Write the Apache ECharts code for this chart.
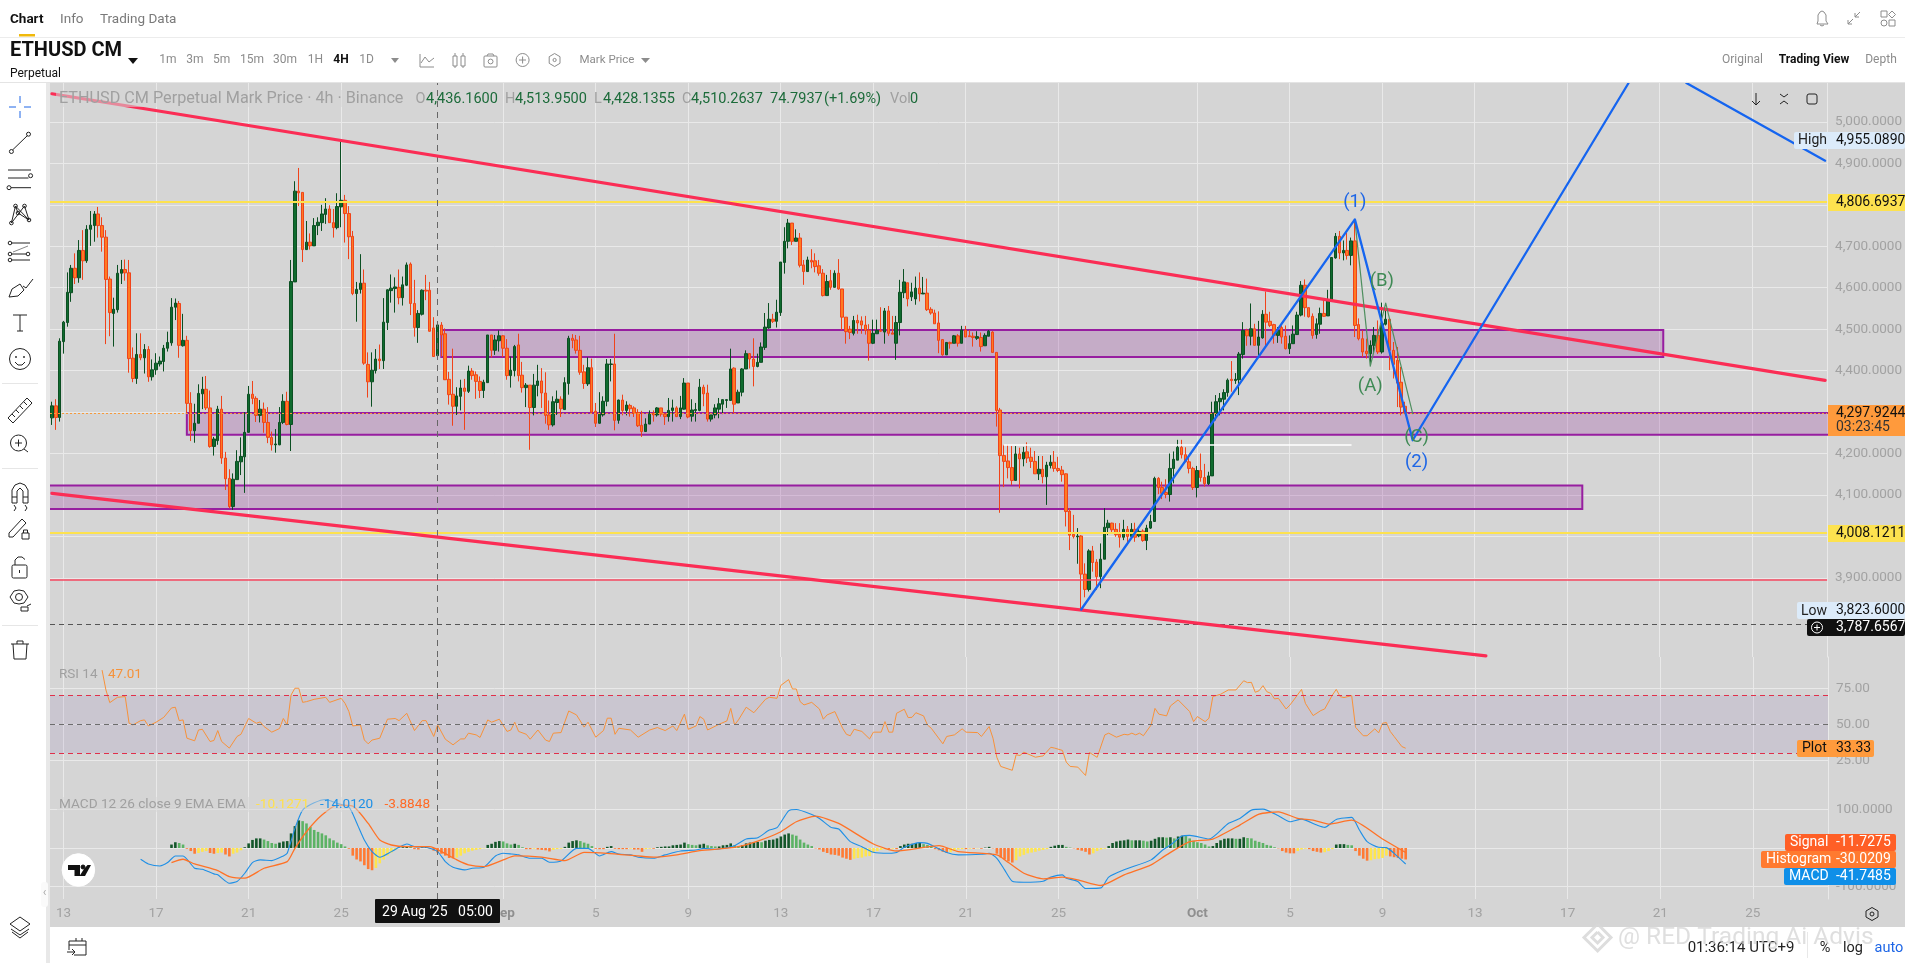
<!DOCTYPE html>
<html><head><meta charset="utf-8"><title>ETHUSD CM</title>
<style>html,body{margin:0;padding:0;background:#fff;overflow:hidden}#c{width:1905px;height:963px}</style>
<script src="https://cdn.jsdelivr.net/npm/echarts@6/dist/echarts.min.js"></script>
</head><body><div id="c"></div>
<script>
// [open, close, low, high], one row per 4h bar
const candles = [
[4286,4315,4269,4325],[4315,4287,4257,4331],[4287,4471,4277,4478],[4470,4517,4441,4520],[4516,4589,4506,4637],[4588,4647,4566,4655],[4647,4624,4609,4683],[4624,4690,4612,4715],[4690,4665,4619,4739],[4665,4741,4660,4751],
[4741,4751,4701,4785],[4750,4778,4711,4785],[4778,4750,4721,4795],[4750,4722,4687,4770],[4722,4620,4464,4739],[4621,4540,4483,4627],[4538,4548,4458,4576],[4547,4635,4540,4655],[4635,4644,4609,4667],[4644,4636,4617,4668],
[4636,4429,4395,4667],[4430,4381,4372,4456],[4381,4439,4368,4490],[4439,4431,4425,4490],[4431,4451,4393,4464],[4451,4385,4373,4459],[4385,4402,4376,4427],[4402,4418,4390,4442],[4416,4423,4410,4434],[4422,4454,4398,4462],
[4454,4468,4446,4494],[4467,4553,4460,4575],[4553,4563,4522,4574],[4562,4461,4431,4568],[4460,4473,4458,4537],[4473,4321,4297,4484],[4321,4255,4230,4348],[4255,4273,4226,4320],[4273,4345,4273,4367],[4344,4355,4307,4385],
[4355,4310,4305,4387],[4310,4217,4214,4352],[4217,4235,4195,4240],[4231,4307,4221,4315],[4307,4189,4175,4339],[4189,4139,4112,4204],[4140,4072,4068,4162],[4072,4138,4064,4152],[4137,4181,4137,4208],[4180,4193,4148,4239],
[4192,4251,4105,4300],[4251,4343,4250,4363],[4343,4333,4319,4375],[4333,4292,4276,4338],[4292,4307,4275,4329],[4307,4275,4250,4323],[4275,4239,4225,4312],[4239,4221,4207,4253],[4221,4223,4202,4259],[4221,4275,4220,4312],
[4275,4326,4271,4343],[4326,4270,4268,4349],[4270,4615,4206,4667],[4614,4833,4614,4857],[4833,4829,4797,4889],[4830,4692,4662,4830],[4692,4710,4691,4761],[4710,4701,4692,4731],[4701,4750,4701,4768],[4750,4758,4727,4770],
[4757,4778,4737,4800],[4777,4790,4754,4816],[4790,4757,4757,4799],[4757,4745,4721,4790],[4745,4796,4741,4828],[4795,4811,4746,4955],[4811,4779,4709,4824],[4779,4723,4669,4797],[4724,4586,4582,4737],[4586,4596,4518,4614],
[4596,4611,4586,4681],[4611,4418,4414,4644],[4415,4373,4335,4444],[4373,4401,4313,4444],[4400,4428,4393,4452],[4428,4424,4404,4463],[4424,4517,4404,4575],[4516,4595,4498,4596],[4593,4599,4564,4632],[4598,4602,4540,4625],
[4601,4576,4560,4644],[4576,4607,4557,4627],[4606,4655,4604,4661],[4657,4562,4534,4661],[4562,4504,4482,4619],[4504,4538,4467,4546],[4536,4594,4533,4596],[4594,4592,4570,4631],[4594,4495,4494,4614],[4503,4434,4433,4529],
[4436.16,4510.26,4428.13,4513.95],[4510,4486,4434,4517],[4489,4378,4378,4502],[4379,4342,4318,4397],[4343,4314,4267,4453],[4314,4339,4293,4360],[4338,4358,4304,4378],[4358,4350,4257,4380],[4350,4399,4346,4412],[4399,4388,4378,4406],
[4390,4374,4332,4398],[4374,4352,4334,4386],[4352,4372,4334,4378],[4371,4486,4371,4486],[4486,4449,4432,4486],[4449,4474,4438,4486],[4472,4484,4446,4497],[4484,4454,4433,4486],[4454,4388,4378,4476],[4388,4401,4359,4434],
[4400,4458,4386,4462],[4462,4388,4374,4489],[4389,4359,4347,4421],[4359,4365,4312,4370],[4365,4311,4209,4365],[4311,4365,4292,4392],[4364,4375,4338,4414],[4375,4346,4310,4406],[4346,4292,4272,4396],[4293,4269,4257,4328],
[4269,4325,4265,4338],[4323,4331,4293,4352],[4331,4308,4288,4338],[4306,4371,4306,4384],[4369,4478,4342,4484],[4478,4473,4454,4488],[4474,4449,4441,4486],[4449,4396,4390,4484],[4397,4369,4356,4414],[4368,4407,4363,4432],
[4407,4300,4297,4429],[4302,4273,4264,4322],[4273,4295,4272,4348],[4293,4326,4289,4338],[4326,4416,4314,4428],[4415,4416,4374,4428],[4416,4280,4256,4489],[4280,4329,4272,4330],[4329,4304,4292,4342],[4304,4317,4292,4326],
[4316,4308,4289,4320],[4310,4297,4288,4314],[4299,4267,4264,4307],[4268,4253,4240,4303],[4253,4271,4253,4285],[4271,4295,4271,4304],[4297,4293,4277,4304],[4293,4310,4289,4312],[4310,4295,4289,4310],[4295,4289,4269,4297],
[4289,4304,4277,4334],[4304,4310,4277,4330],[4310,4289,4288,4314],[4289,4310,4283,4339],[4307,4370,4306,4382],[4370,4288,4285,4370],[4290,4305,4277,4331],[4304,4306,4277,4322],[4304,4360,4302,4380],[4360,4344,4314,4366],
[4346,4283,4277,4366],[4283,4293,4277,4293],[4293,4310,4285,4319],[4307,4320,4285,4334],[4319,4330,4295,4331],[4328,4330,4310,4331],[4328,4404,4328,4453],[4406,4319,4297,4408],[4322,4348,4322,4354],[4348,4404,4338,4406],
[4404,4441,4404,4449],[4441,4428,4405,4442],[4428,4410,4362,4478],[4410,4420,4408,4441],[4420,4457,4420,4468],[4456,4505,4450,4539],[4503,4524,4501,4563],[4524,4519,4515,4537],[4519,4541,4504,4571],[4540,4662,4532,4662],
[4661,4712,4634,4746],[4712,4756,4695,4766],[4756,4712,4703,4756],[4712,4720,4712,4741],[4720,4654,4649,4732],[4655,4639,4607,4667],[4639,4667,4639,4675],[4666,4662,4647,4693],[4665,4651,4637,4683],[4653,4635,4629,4667],
[4635,4581,4579,4645],[4581,4615,4581,4631],[4617,4601,4595,4643],[4601,4635,4601,4642],[4635,4597,4595,4669],[4597,4529,4498,4597],[4529,4494,4465,4529],[4500,4492,4476,4508],[4490,4521,4485,4532],[4521,4515,4489,4535],
[4520,4510,4489,4531],[4510,4497,4487,4532],[4497,4466,4424,4512],[4466,4490,4464,4523],[4489,4497,4489,4523],[4497,4495,4493,4553],[4493,4544,4465,4551],[4544,4490,4484,4556],[4491,4488,4488,4532],[4466,4516,4426,4532],
[4516,4589,4485,4619],[4588,4614,4575,4645],[4612,4573,4555,4612],[4578,4590,4568,4612],[4573,4599,4559,4627],[4599,4585,4567,4637],[4585,4587,4585,4626],[4587,4547,4544,4622],[4548,4539,4535,4553],[4539,4513,4513,4547],
[4515,4473,4442,4543],[4475,4438,4436,4475],[4438,4468,4438,4468],[4468,4465,4453,4470],[4466,4484,4466,4486],[4484,4466,4458,4488],[4466,4498,4466,4508],[4498,4481,4481,4508],[4484,4482,4482,4498],[4483,4480,4458,4492],
[4478,4482,4474,4495],[4480,4458,4446,4492],[4460,4485,4460,4490],[4483,4495,4483,4498],[4493,4444,4444,4495],[4444,4304,4265,4444],[4305,4195,4057,4310],[4195,4181,4119,4221],[4182,4166,4140,4221],[4166,4135,4124,4218],
[4135,4199,4135,4218],[4199,4187,4116,4214],[4187,4203,4169,4216],[4204,4189,4177,4227],[4191,4181,4165,4214],[4181,4151,4151,4206],[4151,4162,4136,4194],[4162,4144,4128,4194],[4144,4172,4076,4180],[4171,4179,4164,4196],
[4179,4164,4156,4206],[4164,4159,4155,4192],[4160,4149,4132,4170],[4151,4060,4024,4152],[4061,4003,3967,4068],[4005,4000,3995,4052],[3999,4001,3934,4020],[4001,3909,3823.6,4003],[3909,3872,3853,3935],[3872,3965,3867,3969],
[3965,3937,3915,3977],[3938,3903,3871,3945],[3903,3945,3875,3983],[3945,4022,3945,4068],[4021,4032,4003,4040],[4032,4016,4006,4033],[4017,4004,3999,4032],[4005,3998,3973,4032],[3998,4017,3991,4040],[4017,4000,3979,4025],
[4000,4017,3998,4032],[4017,3998,3987,4033],[4001,4012,3998,4020],[4013,3990,3987,4017],[3990,4020,3967,4028],[4020,4036,4018,4052],[4036,4140,4036,4144],[4140,4118,4102,4143],[4118,4104,4090,4132],[4106,4101,4092,4138],
[4101,4164,4084,4200],[4164,4186,4128,4205],[4184,4215,4184,4233],[4215,4197,4188,4233],[4197,4180,4180,4215],[4180,4164,4152,4196],[4164,4118,4112,4168],[4118,4159,4094,4170],[4159,4142,4132,4200],[4142,4127,4120,4175],
[4127,4146,4124,4156],[4146,4297,4146,4325],[4297,4325,4280,4341],[4325,4333,4292,4346],[4331,4347,4304,4355],[4347,4377,4337,4381],[4379,4376,4349,4423],[4376,4379,4368,4394],[4378,4440,4341,4445],[4439,4497,4429,4517],
[4497,4484,4460,4501],[4483,4501,4461,4562],[4501,4461,4461,4513],[4461,4481,4437,4520],[4479,4536,4477,4546],[4536,4517,4457,4591],[4519,4509,4505,4542],[4511,4485,4465,4513],[4485,4497,4467,4505],[4504,4481,4465,4509],
[4483,4453,4451,4509],[4453,4465,4440,4485],[4465,4488,4465,4509],[4487,4534,4487,4542],[4534,4606,4531,4616],[4606,4552,4530,4620],[4552,4530,4528,4552],[4531,4485,4477,4538],[4487,4513,4477,4526],[4512,4538,4489,4552],
[4538,4531,4530,4574],[4532,4571,4532,4595],[4570,4673,4570,4673],[4672,4724,4670,4732],[4724,4684,4669,4737],[4684,4690,4666,4714],[4690,4678,4668,4732],[4678,4713,4654,4721],[4713,4509,4481,4763],[4511,4477,4473,4526],
[4477,4445,4433,4497],[4447,4441,4429,4477],[4441,4461,4411,4473],[4461,4485,4441,4505],[4485,4445,4440,4521],[4445,4513,4441,4564],[4512,4524,4509,4550],[4524,4449,4401,4526],[4449,4415,4381,4469],[4425,4370,4312,4457],
[4372,4312,4292,4409],[4314,4297.92,4295,4325]
];
// RSI [bar, value]
const rsi = [[13,87.6],[14,73.8],[15,65],[17,68.7],[19,69.2],[20,50.7],[21,49.5],[23,52.5],[24,53],[25,48.8],[27,51.4],[29,54.8],[31,61.3],[32,61.8],[33,52.5],[34,53],[35,40.3],[37,38.5],[38,46],[39,46.5],[41,38],[42,38.7],[43,45.6],[44,38],[46,33.4],[48,41.5],[49,43],[51,54],[53,50.7],[54,51.6],[55,48.4],[57,44.5],[59,47],[60,54],[61,49.5],[62,70.3],[63,75],[64,75],[65,65.2],[66,65.7],[68,67.3],[71,68.7],[72,65.2],[75,68],[76,64.5],[77,58.8],[78,48.8],[80,49.5],[81,39.1],[82,36.4],[83,39],[85,40.3],[87,53.5],[89,54],[90,52.5],[92,57.6],[94,45.6],[96,52.5],[97,52.5],[99,41.5],[100,49.5],[102,39.6],[104,35.7],[106,39.8],[107,39.8],[108,43.8],[110,42.6],[111,40.8],[113,53],[114,51.4],[116,53.5],[118,45],[119,46],[120,51.4],[121,45],[123,43],[124,39.6],[126,46],[128,39],[129,38],[130,43.8],[132,44.2],[134,59.2],[136,56.5],[138,48],[139,51.4],[141,41],[143,45.6],[144,54.2],[145,54.2],[146,43],[147,47.2],[150,46],[152,41],[155,46],[157,47.7],[159,45.6],[161,48.8],[162,45.6],[164,57],[165,46.5],[167,48.8],[168,55.3],[169,53.5],[170,46],[173,50],[175,52.3],[176,61],[177,49.5],[178,53],[180,61.8],[182,58],[185,67.3],[186,68.7],[188,68],[189,77],[191,81],[192,74.5],[193,74.5],[194,65.7],[195,63.4],[197,65.2],[199,60.6],[200,53.5],[201,56.5],[203,58.8],[205,47.2],[206,43],[207,42],[208,46.5],[210,45],[212,39.8],[213,44.5],[215,44.5],[216,51.8],[217,44.5],[218,44.5],[219,57.6],[221,60.4],[222,54.6],[223,54.8],[224,58],[226,55.8],[227,49.5],[228,47.2],[231,36.4],[232,41.5],[234,42.6],[236,46.8],[237,44.5],[240,44.2],[241,41.5],[243,48.4],[244,40.3],[245,27],[246,20.7],[249,18],[250,28.8],[251,28.3],[252,30.6],[255,27.1],[257,28],[259,34],[260,33.4],[262,31.8],[263,23.7],[264,20.7],[266,20.2],[268,14.4],[269,30.4],[271,27],[273,42.6],[274,43.8],[276,41],[278,43],[279,42.6],[280,43.8],[281,42.6],[282,43.8],[283,42],[285,49.5],[286,61],[287,57],[289,55.8],[290,62.7],[292,66.9],[295,58.8],[296,51.8],[297,55.3],[299,51.8],[300,54.2],[301,69.2],[303,70.8],[305,73.8],[307,73.8],[309,80.2],[310,78.9],[311,79.1],[312,72.2],[313,73.3],[314,76.8],[315,72.6],[316,71.5],[317,67.6],[318,68],[320,60.6],[321,63.4],[322,66.9],[324,74.2],[325,64.5],[327,56],[329,59.5],[330,60.6],[332,70.3],[333,74.2],[334,69.2],[335,68.5],[337,69.9],[338,47.9],[340,42],[341,42],[343,46.8],[344,44],[345,50.7],[346,51.2],[347,45],[348,41.5],[350,34.5],[351,33.33]];
// MACD line [bar, value]
const macdLine = [[23,-29.4],[25,-41.6],[28,-46.8],[30,-38],[32,-20.8],[34,-20.8],[37,-52.8],[39,-55.4],[42,-67.5],[43,-70],[46,-91.8],[48,-87.4],[50,-65.8],[52,-38],[54,-31],[57,-33],[60,-20.8],[61,-13.9],[63,51],[65,98.7],[68,117.7],[71,126.4],[74,116],[77,107],[79,65.8],[81,20.8],[83,-9.5],[85,-24.2],[88,-9.5],[90,1.7],[92,10.4],[94,3.5],[97,1.7],[100,-9.5],[102,-35.5],[104,-50.2],[107,-57.1],[109,-52.8],[112,-50.2],[115,-20.8],[117,-13.9],[119,-15.6],[121,-18],[124,-26.8],[127,-26.8],[129,-37.2],[132,-33.8],[136,-0.9],[139,-0.9],[142,-20.8],[145,-9.5],[147,-15.6],[150,-18],[152,-24],[156,-26.8],[159,-18],[163,-7.8],[167,-5.2],[169,-0.9],[172,-3.5],[177,6],[180,23.4],[183,26.8],[186,46.8],[188,52.8],[191,97],[193,100.4],[197,87.4],[199,77],[202,53.7],[204,49.4],[207,16.5],[210,3.5],[213,-11.3],[217,-13.9],[219,-12],[221,1.7],[225,13.9],[227,12],[232,-12],[235,-18],[241,-16.5],[243,-13.9],[245,-26.8],[247,-57],[249,-86.6],[252,-89.2],[257,-86.6],[259,-76],[262,-70],[263,-78.8],[266,-87.4],[268,-105.6],[272,-104],[274,-76],[278,-57],[285,-31],[288,-5.2],[290,7.8],[293,31],[295,33],[300,23.4],[305,64],[308,77],[311,98.7],[314,101.3],[318,84],[321,68.4],[324,75.3],[328,59.7],[330,53.7],[333,74.5],[337,79.7],[339,46.8],[341,16.5],[344,1.7],[346,0.9],[348,-13.9],[351,-41.75]];
// Signal line [bar, value]
const signalLine = [[31,-38],[34,-29.4],[37,-41.6],[43,-59],[46,-74.5],[50,-78.8],[55,-52.8],[61,-35.5],[63,-0.9],[66,42.4],[70,85.7],[74,111.7],[78,109],[82,64],[85,20.8],[88,7.8],[92,3.5],[98,3.5],[101,-9.5],[105,-31],[108,-44],[112,-48.5],[117,-31],[120,-20.8],[127,-24],[133,-33],[138,-11.3],[144,-13.9],[152,-20.8],[156,-24],[162,-18],[168,-7],[177,1.7],[183,18],[189,42.4],[193,68.4],[198,83],[204,64],[213,10.4],[219,-7.8],[230,6],[235,-9.5],[245,-18],[248,-38],[252,-65.8],[257,-80.5],[262,-76],[266,-83],[272,-97.8],[278,-70],[285,-44],[289,-18],[295,16.5],[301,23.4],[308,59.7],[313,88.3],[318,94.4],[323,77],[327,72.7],[331,62.3],[337,72.7],[345,23.4],[351,-11.73]];
// Histogram, one value per bar from histStart
const histStart = 31;
const histogram = [9,15,13,9,-2,-8,-15,-13,-10,-8,-13,-15,-13,-12,-17,-22,-15,-12,-6,2,12,21,25,25,22,18,13,11,14,17,18,38,57,72,70,64,55,47,42,38,33,25,20,14,10,4,-2,-20,-30,-35,-45,-55,-58,-52,-40,-30,-20,-12,-5,1,2,4,3,-3,-4,2,3,-2,-7,-12,-15,-20,-26,-27,-25,-20,-14,-10,-7,-5,-3,-1,8,11,16,18,17,12,9,11,8,2,-3,-3,-2,-4,-5,-6,-9,-5,-3,-2,3,14,18,20,18,14,11,5,-2,-3,-3,3,5,-2,-3,-3,-3,-2,-4,-4,-10,-3,-2,-2,2,3,4,4,7,8,9,14,10,8,7,9,11,7,5,4,4,7,8,12,7,5,7,12,14,15,16,15,19,21,22,25,30,35,38,35,32,22,14,9,5,-1,-4,-10,-13,-17,-18,-20,-25,-28,-31,-28,-26,-25,-22,-21,-12,-8,-5,-3,-3,-2,-3,5,9,11,11,13,14,10,8,3,-3,-6,-10,-13,-11,-8,-4,-3,-3,-2,-2,-1,-2,1,3,-1,-15,-25,-30,-35,-38,-32,-22,-18,-14,-12,-10,-7,-5,-3,3,6,8,8,3,1,-1,-5,-7,-10,-17,-14,-8,-4,-2,5,13,17,19,20,22,20,20,20,19,17,19,24,28,28,27,28,25,30,32,31,25,19,15,13,9,4,5,13,20,24,25,25,24,24,28,26,25,19,16,13,8,6,2,-1,-8,-12,-14,-14,-8,-4,-2,-3,-8,-10,-12,-11,-8,-3,9,10,10,8,7,-8,-20,-28,-33,-32,-29,-28,-26,-20,-22,-24,-26,-28,-30.02];
// Drawings, in bar index and price
const upperTrend = [[0,5068],[460,4376.6]];
const lowerTrend = [[0,4104],[372,3711.7]];
const waveBlue = [[267,3823.6],[338,4765],[353,4232],[409,5094]];
const waveBlueExit = [[424,5094],[460,4906.6]];
const waveGreen = [[338,4763],[342,4411],[346,4563],[353,4296]];
const whiteLine = [[247,4220.7],[337,4220.7]];
// Zones: startBar, top, endBar, bottom
const zones = [[101,4498,418,4433],[35,4298,460,4245],[0,4122.6,397,4066]];
// Wave labels: bar, price, text, colour group
const waveLabels = [[338,4807,'(1)','b'],[353.5,4178,'(2)','b'],[342,4362,'(A)','g'],[345,4615,'(B)','g'],[353.5,4239,'(C)','g']];
const priceTicks = [3900,4000,4100,4200,4300,4400,4500,4600,4700,4800,4900,5000];
const rsiTicks = [25,50,75];
const macdTicks = [-100,0,100];
const xTickBars = [3,27,51,75,117,141,165,189,213,237,261,297,321,345,369,393,417,441];
const xTickLabels = ['13','17','21','25','Sep','5','9','13','17','21','25','Oct','5','9','13','17','21','25'];
const barCount = 461;
const categories = [];
for (let i = 0; i < barCount; i++) {
  categories.push(new Date(Date.UTC(2025, 7, 12, 12) + i * 4 * 3600 * 1000).toISOString().slice(0, 16));
}

const GREY = '#d5d5d5', GRID = '#e9e9e9', AX = '#a2a2a2', FONT = 'Roboto';
const tickMap = {}; xTickBars.forEach((b, k) => tickMap[b] = xTickLabels[k]);
const isTick = i => tickMap[i] !== undefined;

function xAxis(gi, show) {
  return {
    type: 'category', gridIndex: gi, data: categories, boundaryGap: true,
    axisLine: { show: show, lineStyle: { color: GRID } },
    axisTick: { show: false, alignWithLabel: true, interval: isTick },
    splitLine: { show: true, interval: isTick, alignWithLabel: true, lineStyle: { color: GRID, width: 1 } },
    axisLabel: show ? {
      show: true, interval: isTick, margin: 8, fontFamily: FONT, fontSize: 13.5, color: AX, hideOverlap: false,
      formatter: (v, i) => { const t = tickMap[i]; return (t === 'Sep' || t === 'Oct') ? '{b|' + t + '}' : t; },
      rich: { b: { fontFamily: FONT, fontSize: 13.5, fontWeight: 'bold', color: '#8f8f8f' } }
    } : { show: false }
  };
}
function yAxis(gi, min, max, ticks, fmt) {
  return {
    type: 'value', gridIndex: gi, position: 'right', min, max, scale: true,
    axisLine: { show: true, lineStyle: { color: GRID } },
    axisTick: { show: false, customValues: ticks },
    splitLine: { show: true, lineStyle: { color: GRID, width: 1 } },
    axisLabel: { show: true, customValues: ticks, margin: 8, align: 'left', fontFamily: FONT, fontSize: 13.5, color: AX, formatter: fmt, showMinLabel: true, showMaxLabel: true }
  };
}
const fmt4 = v => v.toLocaleString('en-US', { minimumFractionDigits: 4, maximumFractionDigits: 4 });
const fmt2 = v => v.toFixed(2);

function seg(name, data, color, width, z) {
  return { name, type: 'line', xAxisIndex: 0, yAxisIndex: 0, data, showSymbol: false, symbol: 'none', silent: true, clip: true, z: z || 5,
    lineStyle: { color, width, cap: 'round', join: 'round' }, itemStyle: { color } };
}
function crosshair() {
  return { xAxis: 100, lineStyle: { color: '#666', type: [6, 5], width: 1 } };
}
const hist = histogram.map((v, k) => {
  const prev = k ? histogram[k - 1] : 0;
  const col = v >= 0 ? (v >= prev ? '#14572a' : '#5cb365') : (v <= prev ? '#ff7a33' : '#ffe54d');
  return { value: [histStart + k, v], itemStyle: { color: col } };
});

const series = [
  { name: 'zones', type: 'custom', xAxisIndex: 0, yAxisIndex: 0, z: 1, clip: true, silent: true, encode: { x: 0, y: 1 }, data: zones,
    renderItem: (params, api) => {
      const a = api.coord([api.value(0), api.value(1)]), b = api.coord([api.value(2), api.value(3)]);
      const x0 = api.value(0) === 0 ? a[0] - 6 : a[0], x1 = api.value(2) === barCount - 1 ? b[0] + 6 : b[0];
      return { type: 'rect', shape: { x: x0, y: a[1], width: x1 - x0, height: b[1] - a[1] },
        style: { fill: 'rgba(150,50,160,0.25)', stroke: '#971ea0', lineWidth: 2 } };
    } },
  { name: 'ETHUSD', type: 'candlestick', xAxisIndex: 0, yAxisIndex: 0, data: candles, barWidth: 3, z: 2, silent: true,
    itemStyle: { color: '#0f6b2e', color0: '#ff7a22', borderColor: '#0b4f22', borderColor0: '#f0431a', borderWidth: 1 },
    markLine: { silent: true, symbol: 'none', animation: false, label: { show: false }, data: [
      { yAxis: 4806.69, lineStyle: { color: '#fde24f', width: 2, type: 'solid' } },
      { yAxis: 4008.12, lineStyle: { color: '#fde24f', width: 2, type: 'solid' } },
      { yAxis: 3895, lineStyle: { color: '#f5475f', width: 1.5, type: 'solid' } },
      { yAxis: 3787.66, lineStyle: { color: '#555', width: 1, type: [5, 4] } },
      { yAxis: 4297.92, lineStyle: { color: '#f59a3c', width: 1, type: [2, 2] } },
      crosshair()
    ] } },
  seg('upper', upperTrend, '#fb2d55', 3.2, 6),
  seg('lower', lowerTrend, '#fb2d55', 3.2, 6),
  seg('wave', waveBlue, '#1565f0', 2.3, 7),
  seg('wave2', waveBlueExit, '#1565f0', 2.3, 7),
  seg('waveAbc', waveGreen, '#4f8f5f', 1.2, 6),
  seg('white', whiteLine, '#ffffff', 1.5, 3),
  { name: 'labels', type: 'custom', xAxisIndex: 0, yAxisIndex: 0, z: 8, clip: false, silent: true, encode: { x: 0, y: 1 }, data: waveLabels,
    renderItem: (params, api) => {
      const row = waveLabels[params.dataIndex];
      const p = api.coord([row[0], row[1]]);
      return { type: 'text', x: p[0], y: p[1], style: { text: row[2], font: '400 18.5px ' + FONT, fill: row[3] === 'b' ? '#1e66e6' : '#3f8a55', align: 'center', verticalAlign: 'middle' } };
    } },
  { name: 'RSI', type: 'line', xAxisIndex: 1, yAxisIndex: 1, data: rsi, showSymbol: false, symbol: 'none', silent: true, z: 4,
    lineStyle: { color: '#f8923a', width: 1 }, itemStyle: { color: '#f8923a' },
    markArea: { silent: true, itemStyle: { color: 'rgba(110,70,170,0.10)' }, data: [[{ yAxis: 70 }, { yAxis: 30 }]] },
    markLine: { silent: true, symbol: 'none', animation: false, label: { show: false }, data: [
      { yAxis: 70, lineStyle: { color: '#e0304a', type: [5, 4], width: 1 } },
      { yAxis: 50, lineStyle: { color: '#6d6d6d', type: [5, 4], width: 1 } },
      { yAxis: 30, lineStyle: { color: '#e0304a', type: [5, 4], width: 1 } },
      crosshair()
    ] } },
  { name: 'Histogram', type: 'bar', xAxisIndex: 2, yAxisIndex: 2, data: hist, barWidth: 2.6, silent: true, z: 2,
    markLine: { silent: true, symbol: 'none', animation: false, label: { show: false }, data: [crosshair()] } },
  { name: 'MACD', type: 'line', xAxisIndex: 2, yAxisIndex: 2, data: macdLine, showSymbol: false, symbol: 'none', silent: true, z: 4, smooth: 0.2,
    lineStyle: { color: '#1e8fe6', width: 1.1 }, itemStyle: { color: '#1e8fe6' } },
  { name: 'Signal', type: 'line', xAxisIndex: 2, yAxisIndex: 2, data: signalLine, showSymbol: false, symbol: 'none', silent: true, z: 5, smooth: 0.2,
    lineStyle: { color: '#ff7226', width: 1.3 }, itemStyle: { color: '#ff7226' } }
];

// ---- chrome helpers ----
const T = (text, x, y, size, fill, weight, align) => ({ type: 'text', x, y, silent: true, style: { text, fill, font: (weight || 400) + ' ' + size + 'px ' + FONT, align: align || 'left', verticalAlign: 'middle' } });
const R = (x, y, w, h, fill, r) => ({ type: 'rect', silent: true, shape: { x, y, width: w, height: h, r: r || 0 }, style: { fill } });
const RO = (x, y, w, h, stroke, r) => ({ type: 'rect', silent: true, shape: { x, y, width: w, height: h, r: r || 0 }, style: { fill: 'none', stroke, lineWidth: 1 } });
const PL = (pts, stroke, lw) => ({ type: 'polyline', silent: true, shape: { points: pts }, style: { stroke: stroke || '#222', fill: 'none', lineWidth: lw || 1 } });
const PG = (pts, fill) => ({ type: 'polygon', silent: true, shape: { points: pts }, style: { fill } });
const C = (cx, cy, r, stroke, fill) => ({ type: 'circle', silent: true, shape: { cx, cy, r }, style: { stroke: stroke || '#222', fill: fill || 'none', lineWidth: 1 } });

const under = [
  R(0, 0, 1905, 963, '#ffffff'),
  R(50, 83, 1855, 844, GREY),
  R(46, 83, 4, 880, '#e8e8e8')
];

const ink = '#222', mute = '#8c8c8c', tab = '#7a7a7a', sep = '#e6e6e6', grn = '#1c6b3a';
const TAG = 14;
const over = [
  // header
  T('Chart', 10, 20, 13.5, '#111', 700), T('Info', 60, 20, 13.5, tab), T('Trading Data', 100, 20, 13.5, tab),
  R(19, 34, 16, 2.5, '#f0b90b'), R(0, 37, 1905, 1, '#ececec'), R(0, 82, 1905, 1, '#e4e4e4'),
  T('ETHUSD CM', 10, 51, 20, '#111', 700), PG([[128, 58], [138, 58], [133, 64]], '#111'), T('Perpetual', 10, 74, 12, '#111'),
  T('1m', 168, 60, 12, mute, 400, 'center'), T('3m', 195, 60, 12, mute, 400, 'center'), T('5m', 221.6, 60, 12, mute, 400, 'center'),
  T('15m', 252, 60, 12, mute, 400, 'center'), T('30m', 285, 60, 12, mute, 400, 'center'), T('1H', 315.5, 60, 12, mute, 400, 'center'),
  T('4H', 341, 60, 12, '#111', 700, 'center'), T('1D', 366.5, 60, 12, mute, 400, 'center'), PG([[391, 58], [399, 58], [395, 63]], mute),
  PL([[420, 54], [420, 67], [434, 67]], mute), PL([[421, 63], [425, 57], [429, 62], [434, 58]], mute),
  RO(453, 56, 4, 10, mute), RO(461, 56, 4, 10, mute), PL([[455, 53], [455, 56]], mute), PL([[455, 66], [455, 68]], mute), PL([[463, 53], [463, 56]], mute), PL([[463, 66], [463, 68]], mute),
  RO(484, 56, 13, 11, mute, 1), C(490.6, 61.5, 2.4, mute), PL([[487, 56], [488, 54], [493, 54], [494, 56]], mute),
  C(522.6, 60, 6.5, mute), PL([[519, 60], [526, 60]], mute), PL([[522.6, 56.5], [522.6, 63.5]], mute),
  PL([[554.6, 53.5], [560, 56.7], [560, 63.3], [554.6, 66.5], [549.2, 63.3], [549.2, 56.7], [554.6, 53.5]], mute), C(554.6, 60, 1.6, mute),
  T('Mark Price', 607, 60, 11.5, mute, 400, 'center'), PG([[641, 58], [650, 58], [645.5, 63]], mute),
  T('Original', 1742.5, 60, 12, mute, 400, 'center'), T('Trading View', 1814, 60, 12, '#111', 700, 'center'), T('Depth', 1881, 60, 12, mute, 400, 'center'),
  // top-right icons
  PL([[1817, 24], [1818, 21], [1818, 15], [1820, 12], [1822, 11], [1824, 12], [1826, 15], [1826, 21], [1828, 24], [1817, 24]], mute), PL([[1820, 25], [1822, 26], [1824, 25]], mute),
  PL([[1848, 24], [1853, 19]], mute), PL([[1848, 20], [1848, 24], [1852, 24]], mute), PL([[1860, 12], [1855, 17]], mute), PL([[1855, 13], [1855, 17], [1859, 17]], mute),
  RO(1881, 11, 6, 6, mute), PL([[1892, 11], [1895.5, 14.5], [1892, 18], [1888.5, 14.5], [1892, 11]], mute), C(1884, 23, 3, mute), RO(1889, 20, 6, 6, mute),
  // left toolbar
  PL([[20, 96], [20, 103]], '#1e66e6'), PL([[20, 111], [20, 118]], '#1e66e6'), PL([[9, 107], [16, 107]], '#1e66e6'), PL([[24, 107], [31, 107]], '#1e66e6'),
  PL([[12.5, 150], [27.5, 135.5]]), C(11.4, 151.5, 2), C(28.5, 134.2, 2),
  PL([[8, 170], [31, 170]]), PL([[8, 178], [28.5, 178]]), C(30.6, 175.7, 2), PL([[11, 187.7], [31, 187.7]]), C(9, 187.7, 2),
  PL([[11.4, 223], [15.5, 206], [29, 220], [24.5, 206], [11.4, 223]]), PL([[15.5, 206], [18, 213], [29, 220]]), C(11.4, 223, 1.8), C(15.5, 206, 1.8), C(29, 220, 1.8), C(24.5, 206, 1.8), C(18, 213, 1.8),
  PL([[11, 243], [30, 243]]), C(10, 243, 1.8), PL([[11, 254], [26, 254]]), C(10, 254, 1.8), C(28, 254, 1.8), PL([[11, 260], [30, 260]]), C(10, 260, 1.8), PL([[13, 252], [28, 246]], '#888'),
  PL([[9, 297], [12, 289], [20, 284], [24, 290], [18, 296], [9, 297]]), PL([[23, 286], [26, 288], [33, 279]]),
  PL([[13, 315], [27, 315]]), PL([[20, 315], [20, 331]]), PL([[17, 331], [23, 331]]),
  C(20, 359, 10.5), C(16, 357, 0.6), C(24, 357, 0.6), PL([[15, 362], [18, 365], [22, 365], [25, 362]]),
  R(2, 383, 36, 1, sep),
  PL([[8, 418], [27, 398], [32, 403], [13, 423], [8, 418]]), PL([[12, 414], [15, 417]]), PL([[16, 410], [19, 413]]), PL([[20, 406], [23, 409]]), PL([[24, 402], [27, 405]]),
  C(18.5, 443, 8), PL([[15, 443], [22, 443]]), PL([[18.5, 439.5], [18.5, 446.5]]), PL([[24, 449], [28, 452]]),
  R(2, 468, 36, 1, sep),
  PL([[12, 503], [12, 490], [15, 485], [20, 483], [25, 485], [28, 490], [28, 503], [23, 503], [23, 491], [20, 488], [17, 491], [17, 503], [12, 503]]), PL([[12, 497], [17, 497]]), PL([[23, 497], [28, 497]]), PL([[14, 505], [16, 508], [14, 511]]), PL([[25, 505], [27, 508], [25, 511]]),
  PL([[9, 533], [22, 519], [26, 523], [13, 537], [9, 537], [9, 533]]), RO(22, 533, 7, 6, ink), PL([[23.5, 533], [23.5, 530], [27.5, 530], [27.5, 533]]),
  RO(12, 565, 15, 13, ink, 1.5), PL([[15, 565], [15, 560], [18, 557], [22, 557], [25, 559.5]]), PL([[19.5, 570], [19.5, 573]]),
  PL([[10, 597], [14, 591], [19, 590], [24, 591], [28, 597], [24, 603], [19, 604], [14, 603], [10, 597]]), C(19, 597, 3.5), RO(21, 607, 7, 4, ink), PL([[27, 606], [31, 604]]),
  R(2, 625, 36, 1, sep),
  PL([[11, 644], [29, 644]]), PL([[13, 644], [14, 659], [26, 659], [27, 644]]), PL([[17, 644], [17, 641], [23, 641], [23, 644]]),
  PL([[10, 924], [20, 917], [30, 924], [20, 931], [10, 924]]), PL([[11, 929], [20, 935], [29, 929]]), PL([[12, 932], [20, 938], [28, 932]]),
  PL([[76, 938], [76, 941]]), PL([[82, 938], [82, 941]]), PL([[69, 950], [69, 941], [86, 941], [86, 955], [74, 955]]), PL([[69, 945], [86, 945]]), PL([[67, 952], [75, 952]]), PL([[72, 949], [75, 952], [72, 955]]),
  // handle
  R(41, 882, 7, 25, '#fafafa', 3), T('‹', 44.5, 893, 12, '#aaa', 400, 'center'),
  // legends
  R(56, 90, 360, 17, 'rgba(213,213,213,0.55)'),
  T('ETHUSD CM Perpetual Mark Price · 4h · Binance', 59, 99, 16.2, '#a0a0a0'),
  T('O', 415.5, 99, 14.5, '#a0a0a0'), T('4,436.1600', 426, 99, 14.5, grn), T('H', 505, 99, 14.5, '#a0a0a0'), T('4,513.9500', 515, 99, 14.5, grn),
  T('L', 594, 99, 14.5, '#a0a0a0'), T('4,428.1355', 603, 99, 14.5, grn), T('C', 682, 99, 14.5, '#a0a0a0'), T('4,510.2637', 691, 99, 14.5, grn),
  T('74.7937', 770, 99, 14.5, grn), T('(+1.69%)', 824, 99, 14.5, grn), T('Vol', 890, 99, 14.5, '#a0a0a0'), T('0', 910, 99, 14.5, grn),
  T('RSI 14', 59, 675, 13.5, '#a0a0a0'), T('47.01', 108, 675, 13.5, '#f5923a'),
  R(57, 797, 380, 15, 'rgba(213,213,213,0.5)'),
  T('MACD 12 26 close 9 EMA EMA', 59, 805, 13.6, '#a0a0a0'), T('-10.1271', 256, 805, 13.6, '#ffe14d'), T('-14.0120', 320, 805, 13.6, '#1e90e6'), T('-3.8848', 384.5, 805, 13.6, '#ff6a26'),
  // chart buttons
  PL([[1756, 93], [1756, 105]], ink), PL([[1752, 101], [1756, 105], [1760, 101]], ink),
  PL([[1780, 94], [1784, 97], [1788, 94]], ink), PL([[1780, 104], [1784, 101], [1788, 104]], ink),
  RO(1807, 94, 10, 10, ink, 2),
  // price tags
  R(1794, 132, 111, 17, '#dcebfa', 2), T('High', 1798, 140, TAG, '#222'), T('4,955.0890', 1836, 140, TAG, '#111'),
  R(1828, 194, 77, 17, '#fde24f'), T('4,806.6937', 1836, 202, TAG, '#111'),
  R(1828, 405, 77, 31, '#ff9a3c'), T('4,297.9244', 1836, 413, TAG, '#111'), T('03:23:45', 1836, 427, TAG, '#333'),
  R(1828, 525, 77, 17, '#fde24f'), T('4,008.1211', 1836, 533, TAG, '#111'),
  R(1797, 602, 108, 17, '#dcebfa', 2), T('Low', 1801, 611, TAG, '#222'), T('3,823.6000', 1836, 610, TAG, '#111'),
  R(1807, 619, 98, 17, '#111', 2), C(1817, 627.5, 5.5, '#fff'), PL([[1814, 627.5], [1820, 627.5]], '#fff'), PL([[1817, 624.5], [1817, 630.5]], '#fff'), T('3,787.6567', 1836, 627.5, TAG, '#fff'),
  R(1797, 740, 77, 17, '#ff9a3c', 2), T('Plot', 1802, 748.5, TAG, '#111'), T('33.33', 1836, 748.5, TAG, '#111'),
  R(1785, 834, 111, 17, '#ff5f26', 2), T('Signal', 1790, 842.5, TAG, '#fff'), T('-11.7275', 1836, 842.5, TAG, '#fff'),
  R(1761, 851, 135, 17, '#ff7a30', 2), T('Histogram', 1766, 859.5, TAG, '#fff'), T('-30.0209', 1836, 859.5, TAG, '#fff'),
  R(1784, 868, 112, 17, '#0f8fe8', 2), T('MACD', 1789, 876.5, TAG, '#fff'), T('-41.7485', 1836, 876.5, TAG, '#fff'),
  // TV logo
  C(78.4, 870, 16.3, '#fff', '#fff'),
  PG([[68, 865], [80, 865], [80, 876], [74.5, 876], [74.5, 870], [68, 870]], '#111'), C(83, 867, 2, '#111', '#111'), PG([[87.5, 865], [91, 865], [85, 876], [79.5, 876], [84, 869]], '#111'),
  // crosshair time tag
  R(375, 899, 125, 24, '#111', 1), T("29 Aug '25   05:00", 437.5, 912, 14, '#fff', 400, 'center'),
  // gear
  PL([[1872, 907.5], [1878, 911], [1878, 917], [1872, 920.5], [1866, 917], [1866, 911], [1872, 907.5]], ink), C(1872, 914, 2, ink),
  // bottom status
  R(1807, 932, 1, 26, '#e8e8e8'),
  T('01:36:14 UTC+9', 1741, 948, 15, '#222', 400, 'center'), T('%', 1825, 948, 14.5, '#222', 400, 'center'), T('log', 1853, 948, 14.5, '#222', 400, 'center'), T('auto', 1889, 948, 14.5, '#1e66e6', 400, 'center'),
  // watermark
  PL([[1597.6, 924], [1611, 937.5], [1597.6, 951], [1584, 937.5], [1597.6, 924]], 'rgba(215,215,215,0.85)', 3), PL([[1597.6, 932], [1603, 937.5], [1597.6, 943], [1592, 937.5], [1597.6, 932]], 'rgba(215,215,215,0.85)', 3),
  T('@ RED Trading Ai Advis', 1618, 938, 24.5, 'rgba(210,210,210,0.72)')
];
under.forEach(e => { e.z = -5; });
over.forEach(e => { e.z = 50; });

const chart = echarts.init(document.getElementById('c'), null, { renderer: 'canvas', width: 1905, height: 963 });
chart.setOption({
  animation: false,
  backgroundColor: 'transparent',
  tooltip: { show: false },
  axisPointer: { show: false },
  grid: [
    { left: 50, right: 77, top: 83, height: 574, containLabel: false },
    { left: 50, right: 77, top: 657, height: 130, containLabel: false },
    { left: 50, right: 77, top: 787, height: 112, containLabel: false }
  ],
  xAxis: [xAxis(0, false), xAxis(1, false), xAxis(2, true)],
  yAxis: [yAxis(0, 3709, 5094, priceTicks, fmt4), yAxis(1, 6.4, 96.7, rsiTicks, fmt2), yAxis(2, -133, 159, macdTicks, fmt4)],
  graphic: { elements: under.concat(over) },
  series
});
</script></body></html>
